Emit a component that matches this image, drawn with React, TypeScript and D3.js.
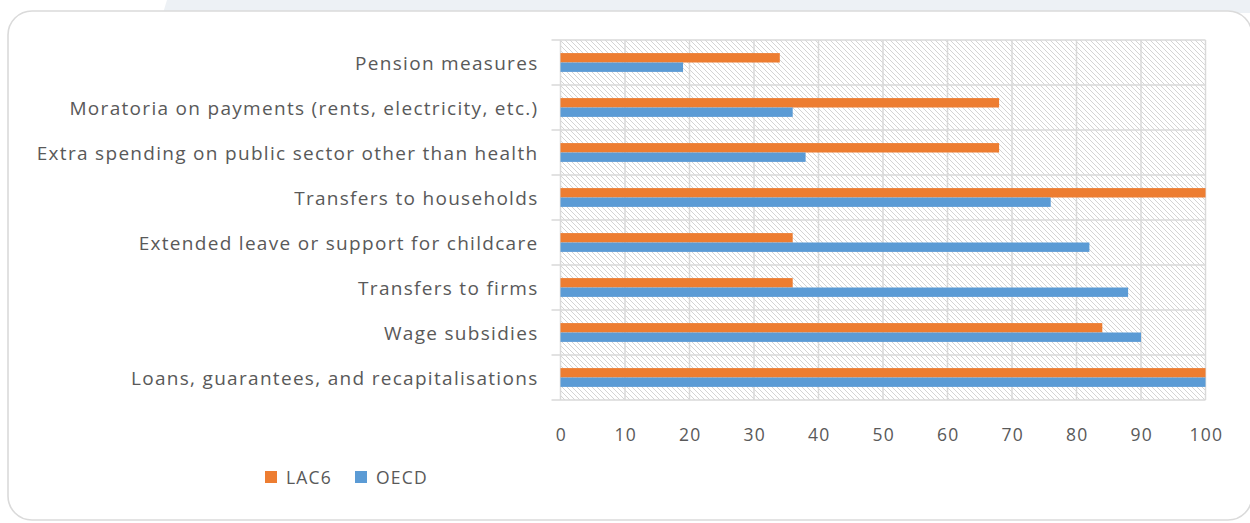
import React from "react";
import * as d3 from "d3";

// Share of countries adopting each measure (%), top to bottom
const categories: string[] = [
  "Pension measures",
  "Moratoria on payments (rents, electricity, etc.)",
  "Extra spending on public sector other than health",
  "Transfers to households",
  "Extended leave or support for childcare",
  "Transfers to firms",
  "Wage subsidies",
  "Loans, guarantees, and recapitalisations",
];
const lac6: number[] = [34, 68, 68, 100, 36, 36, 84, 100];
const oecd: number[] = [19, 36, 38, 76, 82, 88, 90, 100];
const xTicks: number[] = [0, 10, 20, 30, 40, 50, 60, 70, 80, 90, 100];
const seriesNames: string[] = ["LAC6", "OECD"];

const W = 1250;
const H = 523;
const plot = { left: 560.5, right: 1205.5, top: 40, bottom: 400 };
const ORANGE = "#ED7D31";
const BLUE = "#5B9BD5";
const GRID = "#d9d9d9";
const TEXT = "#595959";
const FONT = "'Open Sans', 'Noto Sans', sans-serif";

export default function App() {
  const x = d3.scaleLinear().domain([0, 100]).range([plot.left, plot.right]);
  const y = d3.scaleBand<string>().domain(categories).range([plot.top, plot.bottom]).padding(0);
  const barH = 9.4;
  const bw = y.bandwidth();
  const bounds = categories.map((c) => y(c) as number).concat([plot.bottom]);

  return (
    <svg
      width={W}
      height={H}
      style={{ position: "absolute", left: 0, top: 0, background: "#ffffff" }}
      fontFamily={FONT}
    >
      <defs>
        <pattern id="hatch" patternUnits="userSpaceOnUse" width={5} height={5}>
          <rect width={5} height={5} fill="#ffffff" />
          <path d="M-1,-1 L6,6 M-1,4 L1,6 M4,-1 L6,1" stroke="#d4d4d4" strokeWidth={1} />
        </pattern>
      </defs>

      {/* page band behind the card */}
      <polygon points={`167,0 ${W},0 ${W},13 163,13`} fill="#edf1f5" />
      <rect x={8} y={11} width={1244} height={509} rx={24} ry={24} fill="#ffffff" stroke="#dadada" strokeWidth={1.6} />

      {/* plot area */}
      <rect x={plot.left} y={plot.top} width={plot.right - plot.left} height={plot.bottom - plot.top} fill="url(#hatch)" />

      {/* vertical gridlines */}
      {xTicks.map((t) => (
        <line key={`g${t}`} x1={x(t)} x2={x(t)} y1={plot.top} y2={plot.bottom} stroke={GRID} strokeWidth={1.5} />
      ))}
      {/* category separators with outside ticks */}
      {bounds.map((b, i) => (
        <line key={`h${i}`} x1={plot.left - 9} x2={plot.right} y1={b} y2={b} stroke={GRID} strokeWidth={1.5} />
      ))}

      {/* bars */}
      {categories.map((c, i) => {
        const mid = (y(c) as number) + bw / 2;
        return (
          <g key={c}>
            <rect x={x(0)} y={mid - barH} width={x(lac6[i]) - x(0)} height={barH} fill={ORANGE} />
            <rect x={x(0)} y={mid} width={x(oecd[i]) - x(0)} height={barH} fill={BLUE} />
          </g>
        );
      })}

      {/* category labels */}
      {categories.map((c) => (
        <text
          key={`l${c}`}
          x={538.5}
          y={(y(c) as number) + bw / 2}
          textAnchor="end"
          dominantBaseline="central"
          fontSize={19}
          letterSpacing={1.3}
          fill={TEXT}
        >
          {c}
        </text>
      ))}

      {/* value axis labels */}
      {xTicks.map((t) => (
        <text
          key={`t${t}`}
          x={x(t) + 0.8}
          y={434}
          textAnchor="middle"
          dominantBaseline="central"
          fontSize={17.5}
          letterSpacing={1.2}
          fill={TEXT}
        >
          {t}
        </text>
      ))}

      {/* legend */}
      {seriesNames.map((s, i) => {
        const lx = i === 0 ? 265 : 355;
        return (
          <g key={s}>
            <rect x={lx} y={471} width={12} height={12} fill={i === 0 ? ORANGE : BLUE} />
            <text x={lx + 21} y={477} dominantBaseline="central" fontSize={17.5} letterSpacing={1.2} fill={TEXT}>
              {s}
            </text>
          </g>
        );
      })}
    </svg>
  );
}
